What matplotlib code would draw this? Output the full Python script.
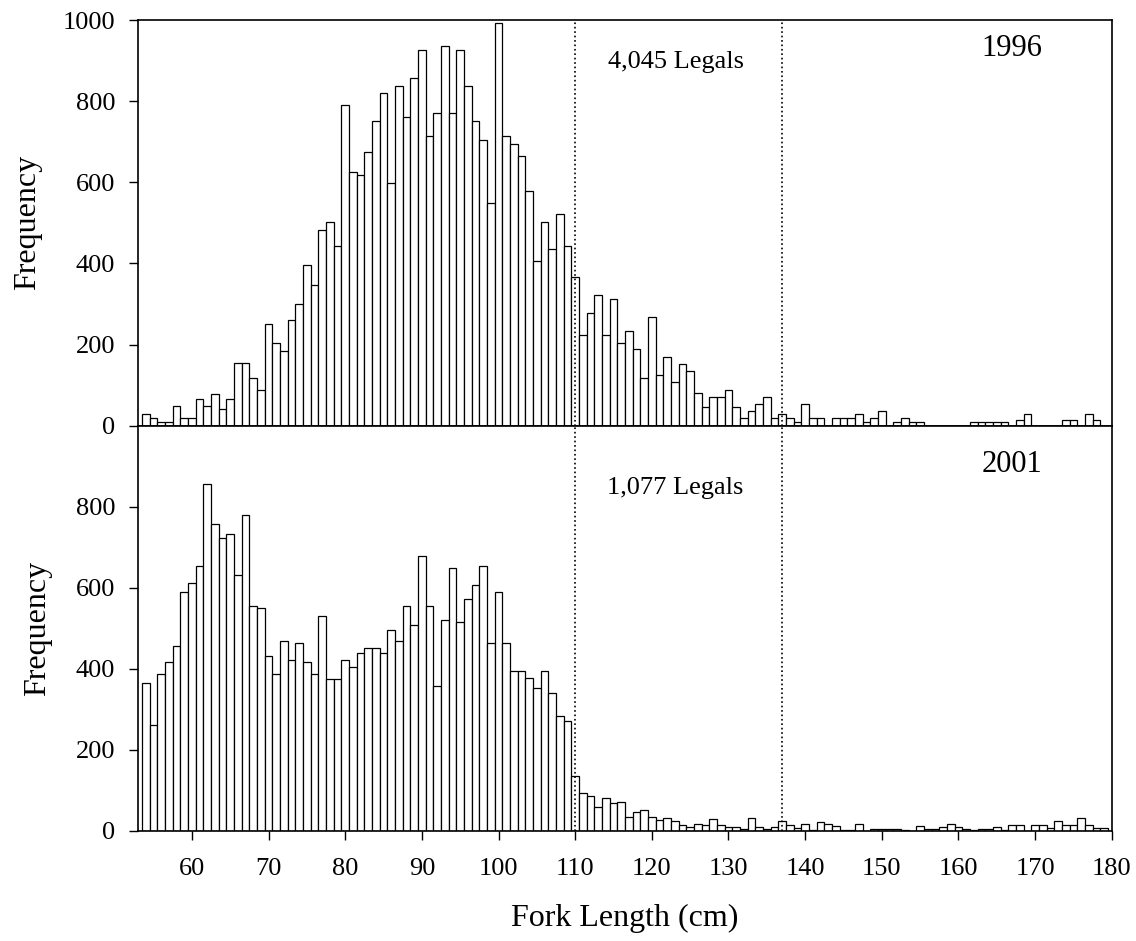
import numpy as np
import matplotlib
matplotlib.use('Agg')
import matplotlib.pyplot as plt

plt.rcParams['font.family'] = ['Liberation Serif', 'DejaVu Serif']

# bin centres (cm) and counts
len_1996 = np.arange(54, 179)
freq_1996 = [30, 20, 10, 10, 48, 20, 20, 67, 48, 77, 40, 67, 155, 155, 117, 88,
             251, 203, 183, 261, 299, 395, 348, 482, 502, 444, 791, 626, 618, 675,
             752, 820, 598, 838, 762, 858, 926, 713, 771, 936, 771, 926, 838, 752,
             704, 550, 992, 713, 695, 666, 579, 406, 502, 436, 521, 444, 367, 224,
             278, 321, 224, 312, 205, 233, 188, 117, 268, 126, 170, 107, 152, 134,
             80, 46, 71, 71, 89, 46, 18, 36, 54, 71, 18, 28, 18, 9, 54, 18, 18, 0,
             18, 18, 18, 28, 9, 18, 37, 0, 9, 18, 9, 9, 0, 0, 0, 0, 0, 0, 9, 9, 9,
             9, 9, 0, 14, 28, 0, 0, 0, 0, 14, 14, 0, 28, 14]

len_2001 = np.arange(54, 180)
freq_2001 = [364, 261, 387, 416, 457, 590, 613, 654, 857, 757, 724, 734, 631, 780,
             555, 549, 433, 387, 469, 423, 463, 416, 387, 531, 376, 376, 423, 405,
             440, 451, 451, 439, 497, 469, 555, 509, 678, 555, 358, 520, 648, 516,
             573, 608, 655, 463, 590, 463, 394, 394, 377, 354, 394, 340, 284, 272,
             135, 93, 87, 60, 81, 68, 72, 35, 47, 51, 35, 26, 33, 24, 14, 11, 17,
             14, 30, 14, 11, 11, 6, 33, 11, 6, 11, 24, 14, 7, 18, 3, 21, 18, 13, 3,
             3, 18, 0, 5, 6, 6, 6, 3, 0, 13, 6, 6, 10, 18, 10, 6, 3, 6, 6, 10, 3,
             16, 16, 0, 16, 16, 7, 24, 16, 16, 33, 16, 7, 7]

legal_limits = [110, 137]
xticks = [60, 70, 80, 90, 100, 110, 120, 130, 140, 150, 160, 170, 180]

fig = plt.figure(figsize=(11.36, 9.41), dpi=100)
ax1 = fig.add_axes([0.1217, 0.5476, 0.8569, 0.4311])
ax2 = fig.add_axes([0.1217, 0.1169, 0.8569, 0.4307])

# axes, x, y, year, legal count, year label y, legals label y, y ticks
panels = [
    (ax1, len_1996, freq_1996, '1996', '4,045 Legals', 930, 897, [0, 200, 400, 600, 800, 1000]),
    (ax2, len_2001, freq_2001, '2001', '1,077 Legals', 905, 846, [0, 200, 400, 600, 800]),
]

for ax, x, y, year, legals, yy, ly, yt in panels:
    ax.bar(x, y, width=1.0, color='white', edgecolor='black', linewidth=0.9)
    for lim in legal_limits:
        ax.axvline(lim, color='black', linestyle=':', linewidth=1.2)
    ax.set_xlim(53, 180)
    ax.set_ylim(0, 1000)
    ax.set_yticks(yt)
    ax.tick_params(axis='y', direction='out', length=6.5, width=1, labelsize=19, pad=10)
    ax.set_ylabel('Frequency', fontsize=23)
    ax.text(123.1, ly, legals, ha='center', va='center', fontsize=19)
    ax.text(167, yy, year, ha='center', va='center', fontsize=22)
    for s in ax.spines.values():
        s.set_linewidth(1.2)

ax1.set_xticks([])
ax1.yaxis.set_label_coords(-0.099, 0.5)
ax2.yaxis.set_label_coords(-0.089, 0.5)

ax2.set_xticks(xticks)
ax2.tick_params(axis='x', direction='out', length=6.5, width=1, labelsize=19, pad=13)
ax2.set_xlabel('Fork Length (cm)', fontsize=23, labelpad=17)

fig.savefig('out.png', dpi=100)
